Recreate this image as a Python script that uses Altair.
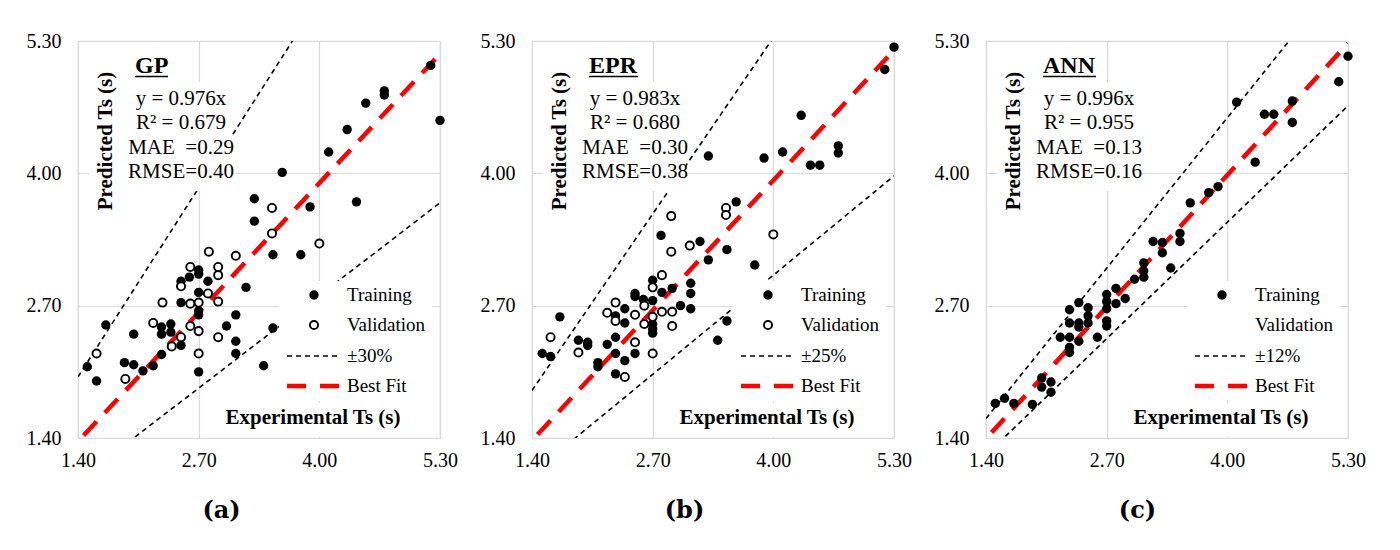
import altair as alt
import pandas as pd

TICKS = [1.40, 2.70, 4.00, 5.30]
FONT = "Liberation Serif"

# ---------------- (a) GP ----------------
GP_TRAIN_X = [5.20, 5.30, 4.70, 4.70, 4.50, 4.30, 4.10, 3.60, 3.30, 3.30, 3.90, 4.40, 3.50, 3.80,
              3.21, 2.70, 2.70, 2.60, 2.51, 2.80, 2.70, 2.51, 2.70, 2.70, 3.10, 1.70, 2.30, 2.40,
              2.30, 2.40, 3.00, 3.50, 2.00, 2.51, 3.10, 3.10, 2.30, 1.90, 2.00, 2.10, 2.21, 1.50,
              1.60, 2.70, 3.40]
GP_TRAIN_Y = [5.06, 4.52, 4.81, 4.77, 4.69, 4.43, 4.21, 4.01, 3.75, 3.53, 3.67, 3.72, 3.20, 3.20,
              2.88, 3.05, 3.01, 2.98, 2.94, 2.94, 2.83, 2.73, 2.65, 2.61, 2.61, 2.51, 2.49, 2.52,
              2.42, 2.44, 2.50, 2.48, 2.42, 2.31, 2.35, 2.23, 2.22, 2.14, 2.12, 2.06, 2.11, 2.10,
              1.96, 2.05, 2.11]
GP_VAL_X = [3.49, 3.49, 4.00, 2.81, 3.10, 2.61, 2.91, 2.91, 2.51, 2.80, 2.31, 2.61, 2.70, 2.91,
            2.21, 2.61, 2.70, 2.51, 2.41, 2.91, 2.70, 1.60, 1.91]
GP_VAL_Y = [3.66, 3.41, 3.31, 3.23, 3.19, 3.08, 3.08, 3.00, 2.89, 2.82, 2.73, 2.72, 2.73, 2.74,
            2.53, 2.50, 2.45, 2.39, 2.30, 2.39, 2.23, 2.23, 1.98]

# ---------------- (b) EPR ----------------
EPR_TRAIN_X = [5.30, 5.20, 4.30, 4.70, 4.70, 4.40, 4.50, 4.10, 3.90, 3.30, 3.60, 2.79, 3.21, 3.50,
               3.30, 3.80, 3.11, 3.11, 3.11, 3.00, 2.91, 2.70, 2.80, 2.51, 2.51, 2.60, 2.70, 2.70,
               2.70, 2.70, 2.40, 2.40, 2.30, 2.30, 2.21, 1.90, 2.00, 2.00, 1.70, 1.51, 1.60, 2.11,
               2.11, 2.30, 2.30, 2.40, 2.51, 3.50, 3.40]
EPR_TRAIN_Y = [5.24, 5.02, 4.57, 4.27, 4.20, 4.08, 4.08, 4.21, 4.15, 4.17, 3.72, 3.39, 3.33, 3.25,
               3.15, 3.10, 2.92, 2.82, 2.67, 2.70, 2.87, 2.95, 2.83, 2.82, 2.79, 2.76, 2.75, 2.52,
               2.47, 2.43, 2.67, 2.53, 2.60, 2.39, 2.32, 2.36, 2.34, 2.31, 2.59, 2.23, 2.20, 2.14,
               2.10, 2.23, 2.03, 2.16, 2.23, 2.55, 2.36]
EPR_VAL_X = [3.49, 3.49, 2.90, 4.00, 2.90, 3.10, 2.80, 2.70, 2.61, 2.30, 2.21, 2.51, 2.80, 2.91,
             2.70, 2.61, 2.30, 2.91, 1.60, 1.90, 2.51, 2.70, 2.40]
EPR_VAL_Y = [3.66, 3.59, 3.58, 3.40, 3.23, 3.29, 3.00, 2.88, 2.70, 2.73, 2.63, 2.61, 2.64, 2.64,
             2.59, 2.52, 2.55, 2.50, 2.39, 2.24, 2.34, 2.23, 2.00]

# ---------------- (c) ANN ----------------
ANN_TRAIN_X = [5.30, 5.20, 4.10, 4.70, 4.70, 4.40, 4.50, 4.30, 3.90, 3.80, 3.60, 3.49, 3.49, 3.30,
               3.20, 3.30, 3.39, 3.10, 3.10, 3.10, 3.00, 2.80, 2.90, 2.70, 2.70, 2.80, 2.70, 2.70,
               2.70, 2.50, 2.50, 2.40, 2.30, 2.30, 2.40, 2.40, 2.50, 2.60, 2.20, 2.30, 2.40, 2.30,
               2.30, 2.00, 2.00, 2.10, 2.10, 1.90, 1.70, 1.60, 1.50]
ANN_TRAIN_Y = [5.15, 4.90, 4.70, 4.71, 4.50, 4.58, 4.58, 4.11, 3.87, 3.81, 3.71, 3.41, 3.33, 3.32,
               3.33, 3.22, 3.07, 3.12, 3.04, 2.98, 2.96, 2.87, 2.77, 2.81, 2.74, 2.72, 2.67, 2.55,
               2.50, 2.68, 2.60, 2.73, 2.66, 2.53, 2.53, 2.49, 2.53, 2.39, 2.39, 2.39, 2.35, 2.24,
               2.29, 1.99, 1.90, 1.95, 1.85, 1.73, 1.74, 1.79, 1.74]

NB = "\u00a0"
PANELS = [
    dict(name="GP", tx=GP_TRAIN_X, ty=GP_TRAIN_Y, vx=GP_VAL_X, vy=GP_VAL_Y, slope=0.976, band=0.30,
         stats=["y = 0.976x", NB + "R\u00b2 = 0.679", "MAE" + NB + " =0.29", "RMSE=0.40"], label="(a)",
         band_label="\u00b130%", ul=33, lx=143),
    dict(name="EPR", tx=EPR_TRAIN_X, ty=EPR_TRAIN_Y, vx=EPR_VAL_X, vy=EPR_VAL_Y, slope=0.983, band=0.25,
         stats=["y = 0.983x", NB + "R\u00b2 = 0.680", "MAE" + NB + " =0.30", "RMSE=0.38"], label="(b)",
         band_label="\u00b125%", ul=49, lx=152),
    dict(name="ANN", tx=ANN_TRAIN_X, ty=ANN_TRAIN_Y, vx=[], vy=[], slope=0.996, band=0.12,
         stats=["y = 0.996x", NB + "R\u00b2 = 0.955", "MAE" + NB + " =0.13", "RMSE=0.16"], label="(c)",
         band_label="\u00b112%", ul=53, lx=151),
]

W, H = 362, 397
one = pd.DataFrame({"k": [0]})
FILLED_SIZE = 88
OPEN_SIZE = 66


def txt(text, x, y, size=21, bold=False, align="center", baseline="middle", angle=0):
    props = dict(text=text, font=FONT, fontSize=size, align=align, baseline=baseline, color="black")
    if bold:
        props["fontWeight"] = "bold"
    if angle:
        props["angle"] = angle
    return alt.Chart(one).mark_text(**props).encode(x=alt.value(x), y=alt.value(y))


def box(x1, x2, y1, y2):
    return alt.Chart(one).mark_rect(color="white").encode(
        x=alt.value(x1), x2=alt.value(x2), y=alt.value(y1), y2=alt.value(y2))


def panel(p):
    sx = alt.Scale(domain=[1.4, 5.3], nice=False, zero=False)
    sy = alt.Scale(domain=[1.4, 5.3], nice=False, zero=False)
    X = alt.X("exp:Q", scale=sx, axis=alt.Axis(
        values=TICKS, format=".2f", grid=True, ticks=False, domain=False, labelPadding=12,
        labelFlush=False, title=p["label"], titleX=p["lx"], titleY=72, titleAlign="center",
        titleBaseline="middle", titleFontSize=24, titleFont="DejaVu Serif", titleFontWeight="bold"))
    Y = alt.Y("pred:Q", scale=sy, axis=alt.Axis(
        values=TICKS, format=".2f", grid=True, ticks=False, domain=False, labelPadding=17,
        labelFlush=False, title=None))

    lo = 1.0 - p["band"]
    band_df = pd.DataFrame({
        "exp": [1.4, 5.3, 1.4, 5.3],
        "pred": [1.4 / lo, 5.3 / lo, 1.4 * lo, 5.3 * lo],
        "line": ["up", "up", "low", "low"],
    })
    fit_df = pd.DataFrame({"exp": [1.46, 5.3], "pred": [1.46 * p["slope"], 5.3 * p["slope"]]})
    train = pd.DataFrame({"exp": p["tx"], "pred": p["ty"]})
    val = pd.DataFrame({"exp": p["vx"], "pred": p["vy"]})

    band = alt.Chart(band_df).mark_line(clip=True, color="black", strokeWidth=1.6,
                                        strokeDash=[5, 4]).encode(x=X, y=Y, detail="line:N")
    fit = alt.Chart(fit_df).mark_line(clip=True, color="#ff0000", strokeWidth=4.5,
                                      strokeDash=[19, 12]).encode(x=X, y=Y)
    tr = alt.Chart(train).mark_circle(size=FILLED_SIZE, color="black", opacity=1).encode(x=X, y=Y)
    layers = [band, fit,
              box(11, 154, 41, 150), box(14, 44, 28, 172), box(201, 354, 240, 360), box(143, 326, 362, 396),
              tr]
    if len(p["vx"]):
        va = alt.Chart(val).mark_point(shape="circle", filled=True, fill="white", stroke="black",
                                       strokeWidth=1.9, size=OPEN_SIZE, opacity=1).encode(x=X, y=Y)
        layers.append(va)

    # text annotations
    layers.append(txt(p["name"], 57, 31.5, size=24, bold=True, align="left", baseline="alphabetic"))
    layers.append(alt.Chart(one).mark_rule(color="black", strokeWidth=1.6).encode(
        x=alt.value(57), x2=alt.value(57 + p["ul"]), y=alt.value(35.5)))
    for s, yy in zip(p["stats"], [58.3, 81.5, 106.5, 131]):
        layers.append(txt(s, 103, yy, size=21))
    layers.append(txt("Predicted Ts (s)", 28, 100, size=21, bold=True, angle=270))
    layers.append(txt("Experimental Ts (s)", 235, 377, size=21, bold=True))

    # legend
    layers.append(alt.Chart(one).mark_circle(size=FILLED_SIZE, color="black", opacity=1).encode(
        x=alt.value(236), y=alt.value(254)))
    if len(p["vx"]):
        layers.append(alt.Chart(one).mark_point(shape="circle", filled=True, fill="white", stroke="black",
                                                strokeWidth=1.9, size=OPEN_SIZE, opacity=1).encode(
            x=alt.value(236), y=alt.value(284)))
    layers.append(alt.Chart(one).mark_rule(color="black", strokeWidth=1.6, strokeDash=[5, 4]).encode(
        x=alt.value(209), x2=alt.value(259), y=alt.value(315)))
    layers.append(alt.Chart(one).mark_rule(color="#ff0000", strokeWidth=4.5, strokeDash=[19, 14]).encode(
        x=alt.value(209), x2=alt.value(262), y=alt.value(345)))
    for s, yy in zip(["Training", "Validation", p["band_label"], "Best Fit"], [254, 284, 315, 345]):
        layers.append(txt(s, 269, yy, size=19, align="left"))

    return alt.layer(*layers).properties(width=W, height=H)


chart = alt.hconcat(*[panel(p) for p in PANELS], spacing=20).properties(
    padding={"left": 17, "top": 22, "right": 5, "bottom": 5}
).configure_view(stroke="#d9d9d9", strokeWidth=1.2).configure_axis(
    gridColor="#d9d9d9", gridWidth=1.2, labelFont=FONT, labelFontSize=20, labelColor="black",
    titleColor="black"
)

chart.save("out.html", embed_options={"renderer": "svg", "actions": False})
